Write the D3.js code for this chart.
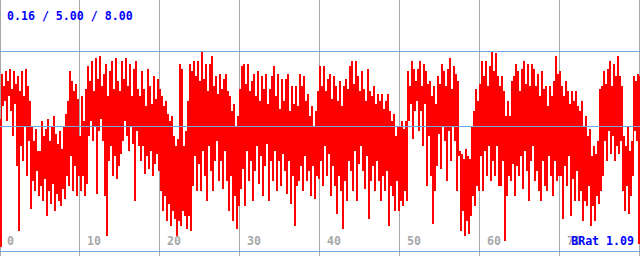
<!DOCTYPE html>
<html>
<head>
<meta charset="utf-8">
<script src="https://cdn.jsdelivr.net/npm/d3@7"></script>
<style>
  html, body { margin: 0; padding: 0; background: #ffffff; }
  svg { display: block; }
  text { font-family: "DejaVu Sans Mono", "Liberation Mono", monospace; font-weight: bold; }
</style>
</head>
<body>
<script>
// ---- data ----
const xMax = 80;          // axis extent (time units)
const sampleStep = 0.125; // spacing between consecutive samples (axis units)
// the signal alternates between local highs (even samples) and local lows (odd samples)
const highs = [
  5.3, 7.1, 6.6, 7.2, 6.8, 7.3, 6.5, 7.2, 6.7, 7.0,
  6.4, 7.2, 6.2, 7.3, 6.6, 6.0, 5.0, 4.4, 4.9, 4.0,
  4.0, 5.2, 4.6, 4.9, 5.3, 4.4, 5.0, 5.4, 4.7, 4.3,
  4.8, 4.1, 5.0, 5.5, 6.0, 7.2, 6.8, 6.4, 6.7, 6.1,
  4.6, 6.2, 5.2, 6.5, 7.4, 6.8, 7.6, 6.4, 7.7, 6.9,
  7.8, 6.6, 7.1, 7.5, 6.2, 7.2, 7.6, 6.5, 7.7, 6.8,
  6.4, 7.6, 6.9, 7.7, 6.6, 7.5, 6.2, 7.3, 7.6, 6.5,
  6.2, 7.2, 6.5, 5.8, 7.3, 6.6, 5.9, 7.0, 6.1, 6.9,
  6.5, 6.2, 5.8, 6.0, 5.5, 5.2, 5.4, 4.6, 4.2, 4.5,
  7.5, 7.3, 4.2, 4.8, 6.0, 7.5, 7.2, 7.6, 7.0, 7.6,
  6.8, 7.96, 6.9, 7.5, 6.4, 7.5, 7.8, 6.6, 7.0, 6.3,
  7.1, 6.5, 6.9, 7.1, 6.4, 6.2, 5.6, 5.9, 5.0, 5.4,
  6.5, 7.4, 7.5, 6.7, 7.5, 6.4, 6.8, 7.1, 6.2, 7.2,
  6.0, 7.0, 6.5, 7.1, 5.9, 6.5, 7.0, 7.4, 6.2, 7.1,
  5.7, 6.9, 6.0, 6.9, 7.1, 5.6, 6.6, 5.9, 6.6, 5.8,
  7.1, 6.6, 7.0, 6.0, 6.3, 5.4, 5.8, 5.0, 5.6, 6.4,
  7.4, 6.6, 7.4, 6.4, 6.9, 7.1, 6.1, 7.0, 6.6, 6.0,
  6.8, 5.8, 6.6, 6.9, 6.5, 7.4, 7.6, 6.7, 7.6, 7.0,
  6.4, 7.2, 6.5, 6.0, 7.3, 6.4, 6.2, 6.6, 5.9, 6.3,
  6.0, 6.3, 5.7, 6.0, 6.3, 5.6, 5.2, 5.5, 4.6, 5.0,
  5.0, 5.2, 4.9, 5.2, 7.2, 6.6, 7.6, 7.3, 6.8, 7.3,
  7.6, 6.6, 7.5, 7.2, 6.7, 6.8, 6.2, 6.6, 5.9, 7.0,
  6.7, 7.5, 7.2, 6.6, 7.3, 7.7, 6.5, 7.4, 7.1, 6.8,
  4.0, 3.9, 3.7, 4.1, 3.8, 3.7, 5.0, 5.6, 6.5, 6.0,
  6.7, 7.6, 7.0, 7.6, 6.6, 7.4, 7.96, 7.2, 7.9, 7.0,
  6.6, 7.0, 6.4, 5.4, 6.0, 5.4, 6.8, 7.0, 7.5, 7.2,
  6.4, 7.3, 7.6, 6.7, 7.5, 6.6, 7.5, 7.3, 6.6, 7.1,
  6.2, 7.2, 6.5, 6.6, 5.8, 6.6, 6.2, 6.8, 7.8, 7.1,
  7.2, 6.6, 6.2, 6.8, 6.4, 5.9, 6.4, 6.0, 6.4, 5.8,
  5.6, 6.0, 5.0, 5.4, 4.6, 4.9, 3.8, 4.2, 3.9, 4.4,
  6.5, 6.6, 7.2, 6.7, 7.3, 7.6, 6.6, 7.5, 7.0, 7.8,
  7.0, 6.6, 4.6, 4.2, 5.0, 4.0, 4.4, 7.0, 6.8, 7.1,
  7.0
];
const lows = [
  0.16, 5.8, 6.0, 5.2, 6.2, 5.6, 4.6, 5.9, 3.4, 0.8,
  4.2, 3.6, 5.0, 3.0, 4.4, 1.7, 2.8, 2.4, 3.2, 2.2,
  2.6, 2.0, 2.9, 1.4, 2.4, 1.9, 2.7, 1.6, 2.3, 2.0,
  1.8, 2.5, 2.1, 3.0, 2.6, 3.8, 2.4, 3.4, 2.2, 3.0,
  2.4, 3.0, 2.2, 2.7, 4.6, 5.2, 4.4, 5.0, 2.3, 4.8,
  5.3, 4.4, 2.2, 0.6, 3.6, 4.2, 3.0, 3.8, 2.9, 3.4,
  3.9, 4.4, 5.2, 4.6, 4.0, 5.0, 4.3, 2.0, 4.8, 4.2,
  3.6, 4.2, 3.1, 3.8, 3.3, 4.0, 3.0, 3.5, 3.9, 3.2,
  2.4, 1.6, 2.2, 1.2, 1.9, 1.0, 1.6, 1.3, 0.6, 1.2,
  1.0, 1.6, 1.4, 0.9, 1.4, 0.8, 2.6, 3.8, 2.4, 3.5,
  2.4, 4.0, 3.0, 2.0, 4.2, 3.2, 2.4, 3.6, 4.4, 2.8,
  3.6, 2.5, 4.0, 2.8, 1.6, 3.0, 1.2, 2.2, 0.9, 1.8,
  2.5, 3.3, 1.8, 4.0, 2.8, 3.6, 2.0, 3.2, 4.2, 2.7,
  3.8, 2.2, 3.4, 4.3, 2.0, 3.6, 2.8, 4.0, 2.4, 3.6,
  2.6, 3.9, 3.2, 2.3, 3.6, 1.9, 3.0, 1.0, 2.6, 2.8,
  3.4, 2.4, 3.8, 2.8, 3.2, 2.2, 3.4, 2.1, 3.0, 2.9,
  3.6, 2.6, 4.2, 3.0, 3.9, 2.2, 3.4, 2.6, 1.5, 3.0,
  2.4, 0.9, 2.8, 2.0, 3.6, 3.2, 2.4, 4.0, 2.0, 3.5,
  4.2, 3.2, 2.5, 3.8, 1.3, 2.8, 3.4, 2.4, 3.6, 2.8,
  2.0, 3.0, 2.4, 3.2, 1.0, 2.6, 2.2, 1.6, 2.8, 1.6,
  2.0, 1.8, 2.4, 2.0, 5.2, 5.9, 4.5, 5.6, 6.0, 4.8,
  5.6, 4.2, 5.9, 2.6, 4.6, 3.0, 1.1, 2.4, 3.4, 4.7,
  3.3, 5.0, 4.4, 2.8, 4.8, 3.6, 5.0, 4.4, 2.4, 3.8,
  0.8, 1.6, 0.6, 1.2, 0.7, 1.4, 2.2, 1.8, 2.6, 2.4,
  3.8, 2.4, 4.0, 3.0, 4.2, 2.8, 3.6, 3.0, 4.2, 2.6,
  2.6, 3.6, 0.4, 2.2, 3.0, 2.8, 3.5, 2.2, 3.4, 3.0,
  3.8, 2.5, 4.0, 3.2, 2.0, 3.6, 4.2, 2.8, 3.2, 2.4,
  2.0, 3.6, 2.6, 2.4, 3.8, 3.0, 2.2, 3.6, 2.8, 3.0,
  3.0, 1.3, 3.4, 2.6, 3.8, 1.4, 2.9, 2.0, 3.2, 2.0,
  2.4, 1.2, 2.0, 1.8, 2.6, 1.0, 1.8, 1.2, 2.2, 1.9,
  2.4, 3.0, 4.4, 3.6, 4.8, 3.9, 4.6, 3.6, 4.2, 3.9,
  4.4, 2.4, 1.6, 2.6, 1.5, 2.2, 3.0, 4.8, 4.4, 0.3
];
const xTicks = [0, 10, 20, 30, 40, 50, 60, 70, 80];
const xTickLabels = ["0", "10", "20", "30", "40", "50", "60", "70"];
const yGridValues = [0, 5, 8];
const headerText = "0.16 / 5.00 / 8.00";
const ratioText = "BRat 1.09";

// ---- layout ----
const W = 640, H = 256;
const svg = d3.select("body").append("svg").attr("width", W).attr("height", H);
svg.append("rect").attr("width", W).attr("height", H).attr("fill", "#ffffff");

const x = d3.scaleLinear().domain([0, xMax]).range([0, W]);
const y = d3.scaleLinear().domain([0, 8]).range([251, 51]);
const gx = d => Math.max(0.5, Math.round(x(d)) - 0.5);

// vertical grid (under data)
svg.append("g").selectAll("line").data(xTicks).join("line")
  .attr("x1", gx).attr("x2", gx)
  .attr("y1", 0).attr("y2", H)
  .attr("stroke", "#a8a8a8").attr("stroke-width", 1);

// data: interleave highs and lows into one sample sequence
const samples = [];
highs.forEach((h, i) => { samples.push(h); if (i < lows.length) samples.push(lows[i]); });
const spans = d3.pairs(samples).map(([a, b], i) => ({ i, a, b }));
svg.append("g").attr("shape-rendering", "crispEdges").selectAll("rect").data(spans).join("rect")
  .attr("x", d => Math.round(x(d.i * sampleStep)))
  .attr("width", d => Math.max(1, Math.round(x((d.i + 1) * sampleStep)) - Math.round(x(d.i * sampleStep))))
  .attr("y", d => Math.round(y(Math.max(d.a, d.b))))
  .attr("height", d => Math.max(1, Math.round(y(Math.min(d.a, d.b))) - Math.round(y(Math.max(d.a, d.b)))))
  .attr("fill", "#ff0000");

// horizontal grid (over data)
svg.append("g").selectAll("line").data(yGridValues).join("line")
  .attr("x1", 0).attr("x2", W)
  .attr("y1", d => Math.round(y(d)) + 0.5).attr("y2", d => Math.round(y(d)) + 0.5)
  .attr("stroke", "#6fa8e0").attr("stroke-width", 1);

// x labels
svg.append("g").selectAll("text").data(xTickLabels).join("text")
  .attr("x", (d, i) => Math.round(x(xTicks[i])) + 7)
  .attr("y", 245)
  .attr("font-size", 11.6)
  .attr("fill", "#a8a8a8")
  .text(d => d);

// header text
svg.append("text").attr("x", 7).attr("y", 19.5)
  .attr("font-size", 11.6).attr("fill", "#0000ff").text(headerText);

// ratio label
svg.append("text").attr("x", 634).attr("y", 245).attr("text-anchor", "end")
  .attr("font-size", 11.6).attr("fill", "#0000ff").text(ratioText);
</script>
</body>
</html>
